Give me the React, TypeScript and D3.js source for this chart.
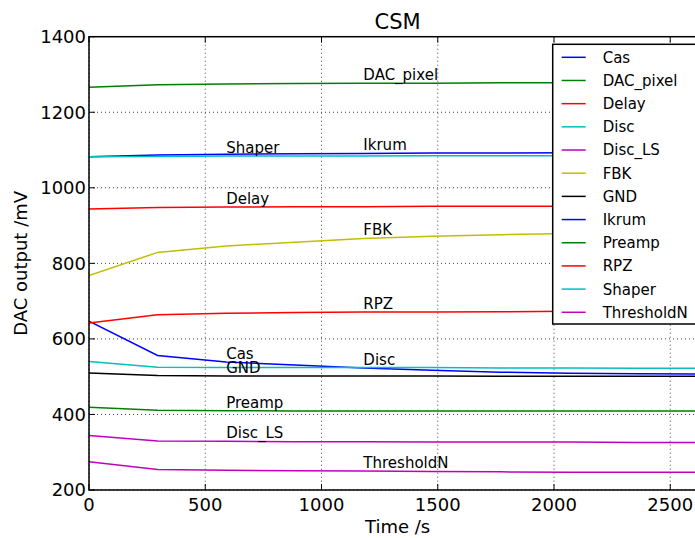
// import d3 for drawing
import * as d3 from "d3";

// import hooks from React
import { useRef, useEffect } from "react";

// time axis (seconds)
const times = [0, 295, 590, 885, 1180, 1475, 1770, 2065, 2360, 2655];

// series values (mV)
const cas = [647, 556, 539, 531, 523, 517, 512, 509, 508, 507];
const dacPixel = [1266, 1273, 1275, 1276, 1277, 1277, 1278, 1278, 1278, 1278];
const delay = [944, 948, 949, 950, 950, 951, 951, 951, 951, 951];
const disc = [540, 525, 524, 524, 524, 524, 523, 523, 522, 522];
const discLS = [344, 330, 329, 328, 328, 327, 327, 327, 326, 326];
const fbk = [768, 829, 846, 856, 866, 872, 876, 879, 881, 882];
const gnd = [510, 503, 502, 502, 502, 502, 501, 501, 501, 501];
const ikrum = [1082, 1087, 1089, 1090, 1091, 1092, 1092, 1093, 1093, 1093];
const preamp = [419, 411, 410, 409, 409, 409, 409, 409, 409, 409];
const rpz = [642, 664, 668, 670, 671, 671, 672, 673, 672, 672];
const shaper = [1082, 1083, 1084, 1084, 1084, 1085, 1085, 1085, 1085, 1085];
const thresholdN = [275, 254, 252, 251, 250, 249, 248, 247, 247, 247];

const names = ["Cas", "DAC_pixel", "Delay", "Disc", "Disc_LS", "FBK", "GND", "Ikrum", "Preamp", "RPZ", "Shaper", "ThresholdN"];
const values = [cas, dacPixel, delay, disc, discLS, fbk, gnd, ikrum, preamp, rpz, shaper, thresholdN];
const colors = ["#0000ff", "#008000", "#ff0000", "#00bfbf", "#bf00bf", "#bfbf00", "#000000", "#0000ff", "#008000", "#ff0000", "#00bfbf", "#bf00bf"];

const xTicks = [0, 500, 1000, 1500, 2000, 2500];
const yTicks = [200, 400, 600, 800, 1000, 1200, 1400];

export default function App() {
    const svgRef = useRef<SVGSVGElement>(null);

    useEffect(() => {
        const svg = d3.select(svgRef.current);
        svg.selectAll("*").remove();

        const font = "DejaVu Sans";
        const left = 89, right = 706.3, top = 36.7, bottom = 490;

        const x = d3.scaleLinear().domain([0, 2655]).range([left, right]);
        const y = d3.scaleLinear().domain([200, 1400]).range([bottom, top]);

        svg.append("rect").attr("width", 695).attr("height", 538).attr("fill", "#ffffff");

        // clip for the plotting area
        svg.append("clipPath").attr("id", "plotClip").append("rect")
            .attr("x", left).attr("y", top).attr("width", right - left).attr("height", bottom - top);

        // grid
        const grid = svg.append("g").attr("stroke", "#000").attr("stroke-width", 0.75).attr("stroke-dasharray", "1,3");
        xTicks.forEach(t => grid.append("line").attr("x1", x(t)).attr("x2", x(t)).attr("y1", top).attr("y2", bottom));
        yTicks.forEach(t => grid.append("line").attr("x1", left).attr("x2", right).attr("y1", y(t)).attr("y2", y(t)));

        // lines
        const line = d3.line<number>().x((d, i) => x(times[i])).y(d => y(d));
        const plot = svg.append("g").attr("clip-path", "url(#plotClip)");
        values.forEach((v, i) => {
            plot.append("path").attr("d", line(v)).attr("fill", "none").attr("stroke", colors[i]).attr("stroke-width", 1.5);
        });

        // series labels
        values.forEach((v, i) => {
            const k = i % 2 === 0 ? 2 : 4;
            svg.append("text").attr("x", x(times[k])).attr("y", y(v[k]) - 3).attr("font-family", font).attr("font-size", 15).attr("fill", "#000").text(names[i]);
        });

        // spines
        svg.append("rect").attr("x", left).attr("y", top).attr("width", right - left).attr("height", bottom - top)
            .attr("fill", "none").attr("stroke", "#000").attr("stroke-width", 1.5);

        // ticks (inward, all sides)
        const ticks = svg.append("g").attr("stroke", "#000").attr("stroke-width", 1);
        xTicks.forEach(t => {
            ticks.append("line").attr("x1", x(t)).attr("x2", x(t)).attr("y1", bottom).attr("y2", bottom - 6);
            ticks.append("line").attr("x1", x(t)).attr("x2", x(t)).attr("y1", top).attr("y2", top + 6);
        });
        yTicks.forEach(t => {
            ticks.append("line").attr("x1", left).attr("x2", left + 6).attr("y1", y(t)).attr("y2", y(t));
            ticks.append("line").attr("x1", right).attr("x2", right - 6).attr("y1", y(t)).attr("y2", y(t));
        });

        // tick labels
        xTicks.forEach(t => {
            svg.append("text").attr("x", x(t)).attr("y", 511).attr("text-anchor", "middle").attr("font-family", font).attr("font-size", 18).text(t);
        });
        yTicks.forEach(t => {
            svg.append("text").attr("x", left - 3).attr("y", y(t)).attr("dy", "0.36em").attr("text-anchor", "end").attr("font-family", font).attr("font-size", 18).text(t);
        });

        // axis labels and title
        svg.append("text").attr("x", (left + right) / 2).attr("y", 533).attr("text-anchor", "middle").attr("font-family", font).attr("font-size", 18).text("Time /s");
        svg.append("text").attr("transform", `translate(27,${(top + bottom) / 2}) rotate(-90)`).attr("text-anchor", "middle").attr("font-family", font).attr("font-size", 18).text("DAC output /mV");
        svg.append("text").attr("x", (left + right) / 2).attr("y", 29).attr("text-anchor", "middle").attr("font-family", font).attr("font-size", 21).text("CSM");

        // legend
        const lg = svg.append("g");
        lg.append("rect").attr("x", 552.7).attr("y", 44.3).attr("width", 148).attr("height", 279.7)
            .attr("fill", "#fff").attr("stroke", "#000").attr("stroke-width", 1.5);
        names.forEach((n, i) => {
            const ry = 57.3 + i * 23.18;
            lg.append("line").attr("x1", 561.7).attr("x2", 585.7).attr("y1", ry).attr("y2", ry).attr("stroke", colors[i]).attr("stroke-width", 1.5);
            lg.append("text").attr("x", 602.7).attr("y", ry).attr("dy", "0.36em").attr("font-family", font).attr("font-size", 15).text(n);
        });
    }, []);

    return (
        <svg ref={svgRef} width={695} height={538} style={{ position: "absolute", left: 0, top: 0 }} />
    );
}
